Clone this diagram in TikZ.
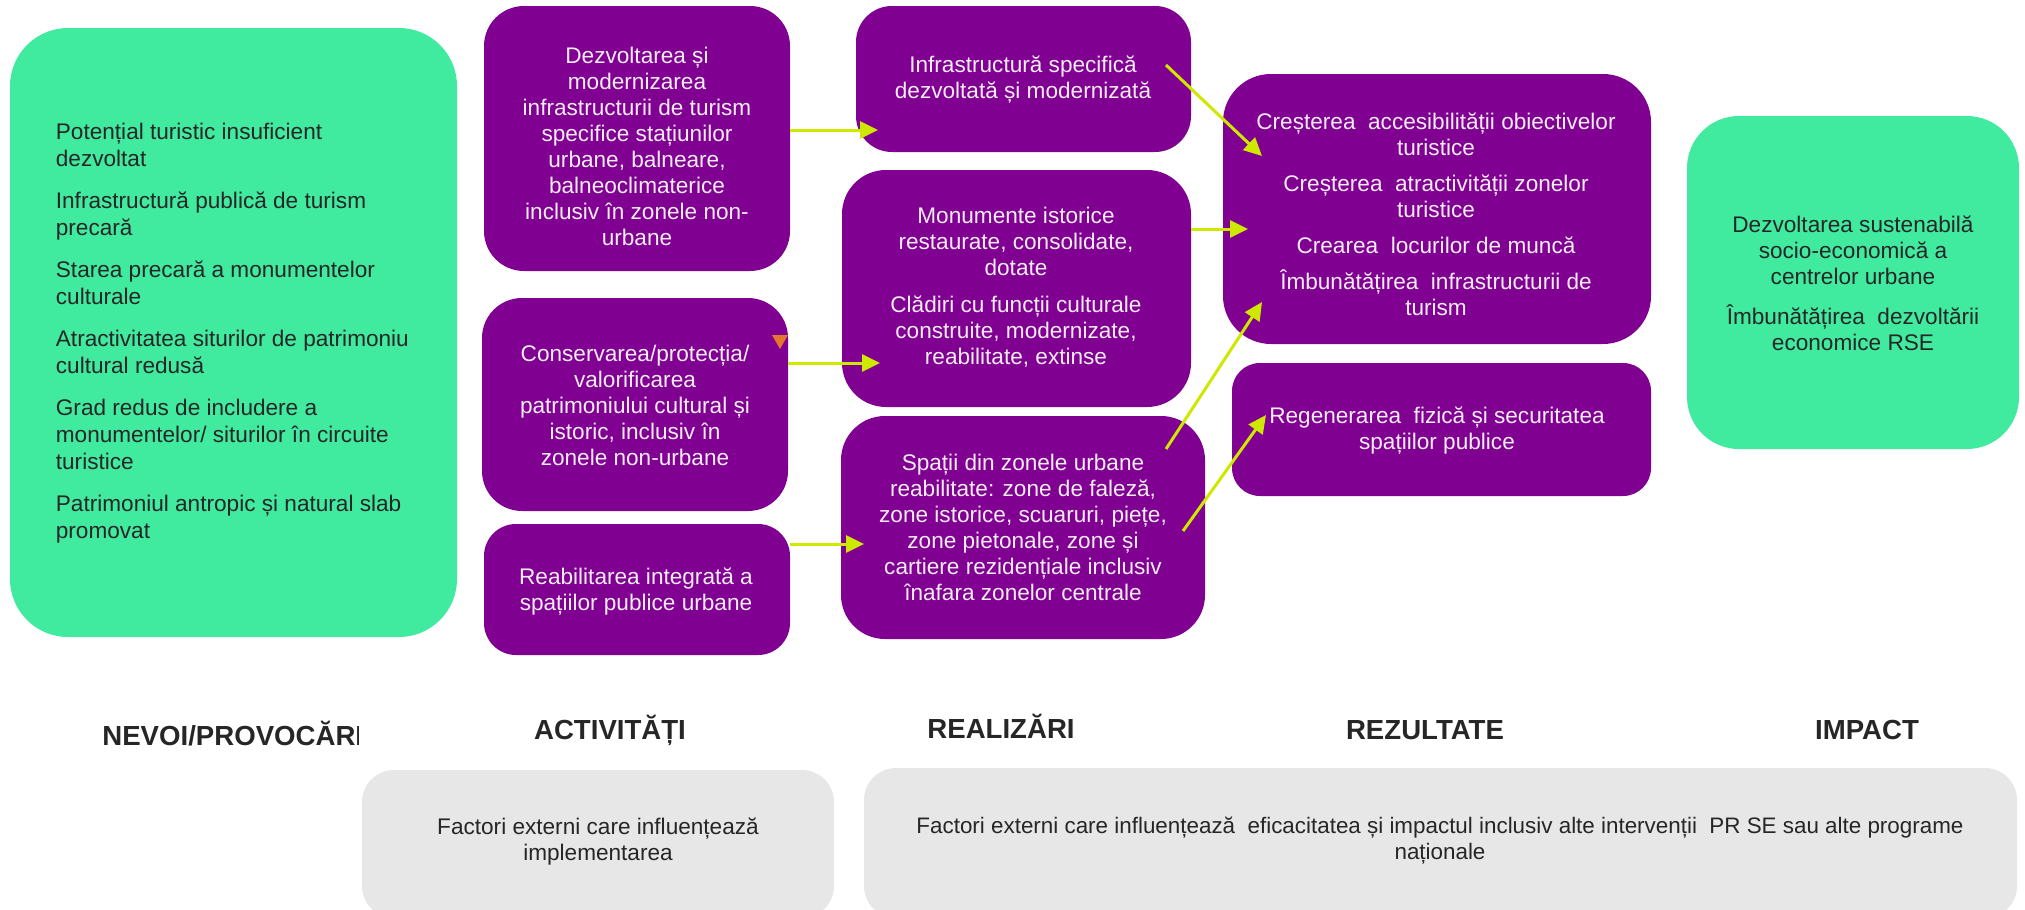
\documentclass[tikz,border=0pt]{standalone}
\usepackage{fontspec}
\setmainfont{Liberation Sans}
\usetikzlibrary{arrows.meta,fit,calc}

\definecolor{mint}{RGB}{64,235,160}
\definecolor{plum}{RGB}{128,0,146}
\definecolor{lime}{RGB}{206,232,0}
\definecolor{ink}{RGB}{38,38,38}
\definecolor{pale}{RGB}{231,231,231}
\definecolor{lilac}{RGB}{247,236,247}
\definecolor{tang}{RGB}{228,118,48}

\begin{document}
\begin{tikzpicture}[x=0.5pt,y=-0.5pt,
  panel/.style={inner sep=0pt, outer sep=0pt, draw=none},
  needbox/.style={panel, fill=mint, rounded corners=#1},
  stepbox/.style={panel, fill=plum, rounded corners=#1},
  extbox/.style={panel, fill=pale, rounded corners=16pt},
  darktxt/.style={inner sep=0pt, text=ink, font=\fontsize{11.3}{13.5}\selectfont},
  lighttxt/.style={inner sep=0pt, text=lilac, align=center, font=\fontsize{11.3}{13}\selectfont},
  headtxt/.style={inner sep=0pt, text=ink, font=\bfseries\fontsize{13.8}{16}\selectfont},
  flow/.style={draw=lime, line width=1.5pt, -{Triangle[length=9pt,width=8.5pt]}}
]
\useasboundingbox (0,0) rectangle (2025,910);
\clip (0,0) rectangle (2025,910);

% needs / challenges
\node[needbox=29pt, fit={(10,28) (457,637)}] (needs) {};
\node[darktxt, anchor=west, align=left] (needst) at (55.5,333) {%
Potențial turistic insuficient\\dezvoltat\\[7.5pt]
Infrastructură publică de turism\\precară\\[7.5pt]
Starea precară a monumentelor\\culturale\\[7.5pt]
Atractivitatea siturilor de patrimoniu\\cultural redusă\\[7.5pt]
Grad redus de includere a\\monumentelor/ siturilor în circuite\\turistice\\[7.5pt]
Patrimoniul antropic și natural slab\\promovat};

% activities
\node[stepbox=20pt, fit={(484,6) (790,271)}] (a1) {};
\node[lighttxt] (a1t) at (637,146.5) {Dezvoltarea și\\modernizarea\\infrastructurii de turism\\specifice stațiunilor\\urbane, balneare,\\balneoclimaterice\\inclusiv în zonele non-\\urbane};

\node[stepbox=20pt, fit={(482,298) (788,511)}] (a2) {};
\node[lighttxt] (a2t) at (635,405) {Conservarea/protecția/\\valorificarea\\patrimoniului cultural și\\istoric, inclusiv în\\zonele non-urbane};
\fill[tang] (772,335) -- (788,335) -- (780,349) -- cycle;

\node[stepbox=16pt, fit={(484,524) (790,655)}] (a3) {};
\node[lighttxt] (a3t) at (636,591.5) {Reabilitarea integrată a\\spațiilor publice urbane};

% outputs
\node[stepbox=18pt, fit={(856,6) (1191,152)}] (r1) {};
\node[lighttxt] (r1t) at (1023,80) {Infrastructură specifică\\dezvoltată și modernizată};

\node[stepbox=22pt, fit={(842,170) (1191,407)}] (r2) {};
\node[lighttxt] (r2t) at (1016,287) {Monumente istorice\\restaurate, consolidate,\\dotate\\[5.5pt]Clădiri cu funcții culturale\\construite, modernizate,\\reabilitate, extinse};

\node[stepbox=22pt, fit={(841,416) (1205,639)}] (r3) {};
\node[lighttxt] (r3t) at (1023,527) {Spații din zonele urbane\\reabilitate: zone de faleză,\\zone istorice, scuaruri, piețe,\\zone pietonale, zone și\\cartiere rezidențiale inclusiv\\înafara zonelor centrale};

% results
\node[stepbox=24pt, fit={(1223,74) (1651,344)}] (z1) {};
\node[lighttxt] (z1t) at (1436,214) {Creșterea~ accesibilității obiectivelor\\turistice\\[5pt]Creșterea~ atractivității zonelor\\turistice\\[5pt]Crearea~ locurilor de muncă\\[5pt]Îmbunătățirea~ infrastructurii de\\turism};

\node[stepbox=14pt, fit={(1232,363) (1651,496)}] (z2) {};
\node[lighttxt] (z2t) at (1437,431) {Regenerarea~ fizică și securitatea\\spațiilor publice};

% impact
\node[needbox=26pt, fit={(1687,116) (2019,449)}] (imp) {};
\node[darktxt, align=center, font=\fontsize{11.3}{13}\selectfont] (impt) at (1853,283) {Dezvoltarea sustenabilă\\socio-economică a\\centrelor urbane\\[7pt]Îmbunătățirea~ dezvoltării\\economice RSE};

% column headings (the first one is cut off by its frame)
\begin{scope}
  \clip (90,700) rectangle (358,770);
  \node[headtxt, anchor=west] (hneeds) at (102,734) {NEVOI/PROVOCĂRI};
\end{scope}
\node[headtxt] (hact) at (610,730) {ACTIVITĂȚI};
\node[headtxt] (hout) at (1001,726) {REALIZĂRI};
\node[headtxt] (hres) at (1425,730) {REZULTATE};
\node[headtxt] (himp) at (1867,730) {IMPACT};

% external factors
\node[extbox, fit={(362,770) (834,918)}] (ext1) {};
\node[lighttxt, text=ink] (ext1t) at (598,842) {Factori externi care influențează\\implementarea};
\node[extbox, fit={(864,768) (2017,918)}] (ext2) {};
\node[lighttxt, text=ink, font=\fontsize{11.2}{13}\selectfont] (ext2t) at (1440,841) {Factori externi care influențează~ eficacitatea și impactul inclusiv alte intervenții~ PR SE sau alte programe\\naționale};

% connectors
\coordinate (r1in) at ($(r1.west)+(22,51)$);
\coordinate (r2in) at ($(r2.west)+(38,74.5)$);
\coordinate (r3in) at ($(r3.west)+(23,16.5)$);
\draw[flow] (a1.east |- r1in) -- (r1in);
\draw[flow] (a2.east |- r2in) -- (r2in);
\draw[flow] (a3.east |- r3in) -- (r3in);

\coordinate (r1out) at ($(r1.north east)+(-25,59)$);
\coordinate (r3outa) at ($(r3.north east)+(-39,33)$);
\coordinate (r3outb) at ($(r3.north east)+(-22,115)$);
\coordinate (z1ina) at ($(z1.north west)+(39,82)$);
\coordinate (z1inb) at ($(z1.west)+(25,20)$);
\coordinate (z1inc) at ($(z1.south west)+(39,-42)$);
\coordinate (z2in) at ($(z2.north west)+(34,52)$);
\draw[flow] (r1out) -- (z1ina);
\draw[flow] (r2.east |- z1inb) -- (z1inb);
\draw[flow] (r3outa) -- (z1inc);
\draw[flow] (r3outb) -- (z2in);
\end{tikzpicture}
\end{document}
